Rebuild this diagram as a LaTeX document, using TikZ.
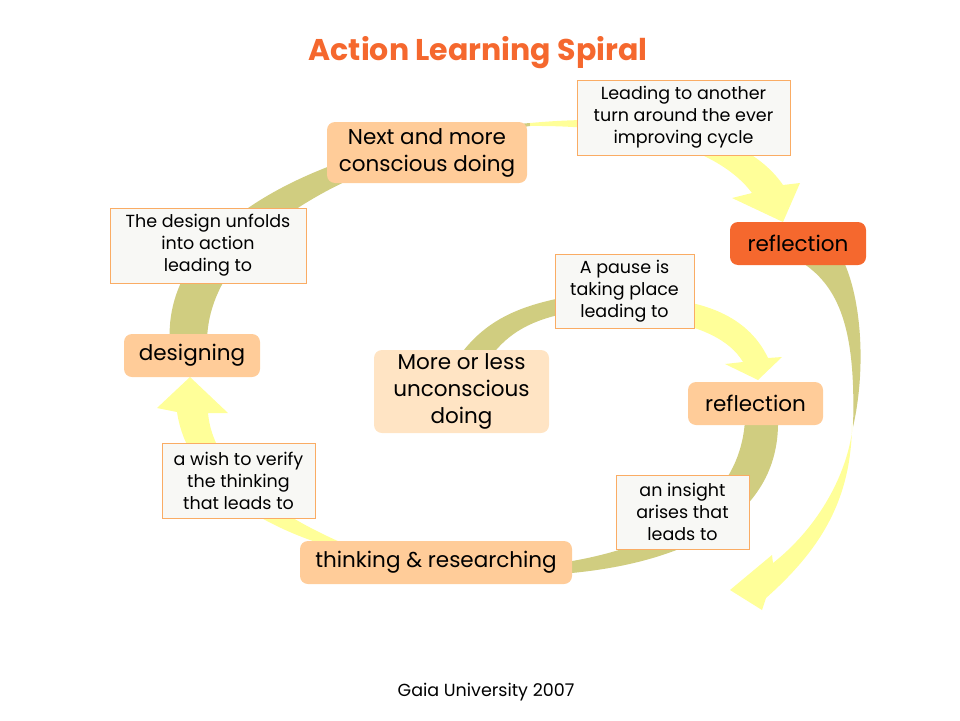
\documentclass[tikz,border=0pt]{standalone}
\usepackage{fontspec}
\setmainfont{Poppins}
\definecolor{khaki}{RGB}{208,205,128}
\definecolor{paleyellow}{RGB}{255,255,153}
\definecolor{peach}{RGB}{255,204,153}
\definecolor{lightpeach}{RGB}{255,228,196}
\definecolor{flame}{RGB}{245,104,46}
\definecolor{notefill}{RGB}{248,248,245}
\definecolor{noteline}{RGB}{250,172,100}

\begin{document}
\begin{tikzpicture}[x=1pt,y=-1pt,
  stage/.style={fill=peach,rounded corners=8pt,align=center,inner sep=0pt,font=\fontsize{21.5}{27}\selectfont},
  note/.style={draw=noteline,fill=notefill,line width=0.8pt,align=center,inner sep=0pt,font=\fontsize{17.5}{22}\selectfont},
  band/.style={fill=khaki},
  glow/.style={fill=paleyellow}]
\useasboundingbox (0,0) rectangle (960,720);
\fill[band] (460,355) .. controls (490,315) and (530,298) .. (620,290) -- (620,308) .. controls (550,310) and (515,325) .. (492,355) -- cycle;
\fill[glow] (650,298) .. controls (710,300) and (750,320) .. (768,358) -- (782,357) -- (758,380) -- (725,364) -- (743,362) .. controls (730,340) and (700,325) .. (650,318) -- cycle;
\fill[band] (745,420) .. controls (740,505) and (660,548) .. (560,563) -- (560,574) .. controls (680,565) and (780,520) .. (778,420) -- cycle;
\fill[glow] (400,562) .. controls (300,548) and (190,500) .. (177,412) -- (157,408) -- (190,377) -- (228,413) -- (208,413) .. controls (215,490) and (320,540) .. (420,572) -- cycle;
\fill[band] (170,345) .. controls (160,220) and (330,140) .. (530,123) -- (530,126) .. controls (380,150) and (205,225) .. (207,345) -- cycle;
\fill[glow] (530,123) .. controls (650,112) and (745,130) .. (783,185) -- (800,183) -- (783,222) -- (732,198) -- (752,193) .. controls (720,150) and (640,125) .. (530,126) -- cycle;
\fill[band] (798,260) .. controls (840,285) and (856,330) .. (853,427) .. controls (866,370) and (862,300) .. (843,260) -- cycle;
\fill[glow] (852,422) .. controls (852,500) and (820,550) .. (766,598) -- (762,610) -- (730,590) -- (772,555) -- (773,563) .. controls (815,530) and (845,480) .. (852,432) -- cycle;

\node[font=\fontsize{30}{36}\selectfont\bfseries,text=flame] (title) at (478,53) {Action Learning Spiral};
\node[stage,minimum width=200pt,minimum height=61pt] (next) at (427,152.5) {Next and more\\conscious doing};
\node[stage,fill=flame,minimum width=136pt,minimum height=43pt] (outer) at (798,243.5) {reflection};
\node[stage,minimum width=136pt,minimum height=43pt] (designing) at (192,355.5) {designing};
\node[stage,fill=lightpeach,minimum width=175pt,minimum height=83pt] (doing) at (461.5,391.5) {More or less\\unconscious\\doing};
\node[stage,minimum width=135pt,minimum height=43pt] (inner) at (755.5,403.5) {reflection};
\node[stage,minimum width=272pt,minimum height=43pt] (thinking) at (436,562.5) {thinking \& researching};
\node[note,minimum width=213pt,minimum height=75pt] (turn) at (683.5,117.5) {Leading to another\\turn around the ever\\improving cycle};
\node[note,minimum width=196pt,minimum height=75pt] (unfolds) at (208,245.5) {The design unfolds\\into action\\leading to};
\node[note,minimum width=139pt,minimum height=74pt] (pause) at (624.5,291) {A pause is\\taking place\\leading to};
\node[note,minimum width=153pt,minimum height=75pt] (verify) at (238.5,480.5) {a wish to verify\\the thinking\\that leads to};
\node[note,minimum width=133pt,minimum height=74pt] (insight) at (682.5,512) {an insight\\arises that\\leads to};
\node[font=\fontsize{17.5}{20}\selectfont] (credit) at (486,692) {Gaia University 2007};
\end{tikzpicture}
\end{document}
